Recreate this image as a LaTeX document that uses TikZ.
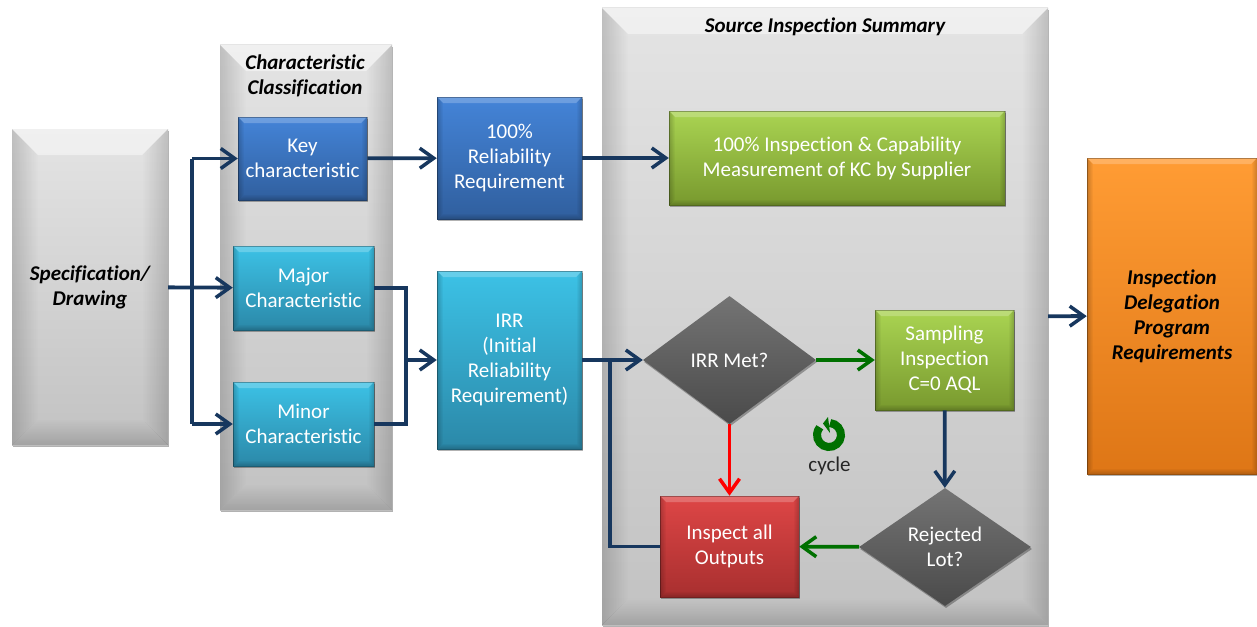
\documentclass[tikz,border=0pt]{standalone}
\usepackage{fontspec}
\setmainfont[Ligatures=NoCommon]{Carlito}
\usetikzlibrary{shapes.geometric,arrows.meta,shadows,fadings}
\definecolor{panelTop}{HTML}{E4E4E4}
\definecolor{panelBot}{HTML}{C2C2C2}
\definecolor{blueTop}{HTML}{4484D8}
\definecolor{blueBot}{HTML}{305F9E}
\definecolor{cyanTop}{HTML}{3CC2E6}
\definecolor{cyanBot}{HTML}{2B88A8}
\definecolor{grnTop}{HTML}{AAD452}
\definecolor{grnBot}{HTML}{78992E}
\definecolor{redTop}{HTML}{DE4646}
\definecolor{redBot}{HTML}{A82F2F}
\definecolor{orgTop}{HTML}{FF9C34}
\definecolor{orgBot}{HTML}{DE7616}
\definecolor{dmdTop}{HTML}{747474}
\definecolor{dmdMid}{HTML}{5A5A5A}
\definecolor{dmdBot}{HTML}{4A4A4A}
\definecolor{navyLine}{HTML}{17375E}
\definecolor{dkGreen}{HTML}{007000}
\newcommand{\ppb}{path picture bounding box}
\tikzset{
  >={Straight Barb[length=14pt,width=20pt,line width=3.5pt]},
  % depth, top face opacity, side face opacity
  bevel/.style n args={3}{path picture={
    \fill[white,opacity=#2] (\ppb.north west) -- ([xshift=#1,yshift=-#1]\ppb.north west) -- ([xshift=-#1,yshift=-#1]\ppb.north east) -- (\ppb.north east) -- cycle;
    \fill[black,opacity=#3,path fading=east] (\ppb.north west) -- ([xshift=#1,yshift=-#1]\ppb.north west) -- ([xshift=#1,yshift=#1]\ppb.south west) -- (\ppb.south west) -- cycle;
    \fill[black,opacity=#3,path fading=west] (\ppb.north east) -- ([xshift=-#1,yshift=-#1]\ppb.north east) -- ([xshift=-#1,yshift=#1]\ppb.south east) -- (\ppb.south east) -- cycle;
    \fill[black,opacity=#3,path fading=north] (\ppb.south west) -- ([xshift=#1,yshift=#1]\ppb.south west) -- ([xshift=-#1,yshift=#1]\ppb.south east) -- (\ppb.south east) -- cycle;
  }},
  softshadow/.style={drop shadow={shadow xshift=1pt,shadow yshift=-2pt,opacity=.3,fill=black}},
  panel/.style={rectangle, inner sep=0pt, top color=panelTop, bottom color=panelBot, softshadow, bevel={26pt}{.45}{.16}},
  box/.style={rectangle, inner sep=0pt, align=center, text=white, font=\fontsize{21}{25}\selectfont, softshadow, bevel={6pt}{.22}{.2}, draw=black, draw opacity=.3, line width=.5pt},
  keybox/.style={box, top color=blueTop, bottom color=blueBot},
  majbox/.style={box, top color=cyanTop, bottom color=cyanBot},
  grnbox/.style={box, top color=grnTop, bottom color=grnBot},
  decide/.style={diamond, inner sep=0pt, align=center, text=white, font=\fontsize{21}{25}\selectfont, top color=dmdTop, middle color=dmdMid, bottom color=dmdBot, softshadow},
  heading/.style={align=center, font=\fontsize{21}{25}\selectfont\bfseries\itshape},
  flow/.style={line width=3.8pt, color=navyLine},
}

\begin{document}
\begin{tikzpicture}[x=1pt,y=-1pt]
  \useasboundingbox (0,0) rectangle (1257,626);

  % panels
  \node[panel, minimum width=156pt, minimum height=316pt, heading] (spec) at (90,287) {Specification/\\Drawing};
  \node[panel, minimum width=172pt, minimum height=465pt] (class) at (306,277.5) {};
  \node[panel, minimum width=446pt, minimum height=617pt] (summary) at (825,316.5) {};
  \node[heading] (classT) at (305,76) {Characteristic\\Classification};
  \node[heading] (summaryT) at (825,27) {Source Inspection Summary};

  % boxes
  \node[keybox, minimum width=129pt, minimum height=83pt] (key) at (302.5,158.5) {Key\\characteristic};
  \node[majbox, minimum width=141pt, minimum height=84pt] (major) at (303.5,288) {Major\\Characteristic};
  \node[majbox, minimum width=141pt, minimum height=84pt] (minor) at (303.5,424) {Minor\\Characteristic};
  \node[keybox, minimum width=145pt, minimum height=122pt] (rel) at (509.5,158) {100\%\\Reliability\\Requirement};
  \node[majbox, minimum width=145pt, minimum height=178pt] (irr) at (509.5,360) {IRR\\(Initial\\Reliability\\Requirement)};
  \node[grnbox, minimum width=336pt, minimum height=94pt] (insp) at (837,158) {100\% Inspection \& Capability\\Measurement of KC by Supplier};
  \node[grnbox, minimum width=139pt, minimum height=100pt] (samp) at (944.5,360) {Sampling\\Inspection\\C=0 AQL};
  \node[box, top color=redTop, bottom color=redBot, minimum width=139pt, minimum height=101pt] (all) at (729.5,546.5) {Inspect all\\Outputs};
  \node[box, top color=orgTop, bottom color=orgBot, minimum width=170pt, minimum height=316pt, text=black, heading] (prog) at (1172,316) {Inspection\\Delegation\\Program\\Requirements};

  % decisions
  \node[decide, minimum width=173pt, minimum height=128pt] (met) at (729.5,360) {IRR Met?};
  \node[decide, minimum width=172pt, minimum height=118pt] (lot) at (945,547) {Rejected\\Lot?};

  % cycle mark
  \node[font=\fontsize{21}{25}\selectfont, text=black!85] (cyc) at (829.5,466) {cycle};
  \coordinate (ring) at (829,435);
  \draw[dkGreen, line width=8pt] (ring) ++(-85:12) arc (-85:220:12);
  \fill[dkGreen] (ring) ++(-1,-18) -- ++(-5,6.5) -- ++(7,9.5) -- cycle;

  % junctions
  \coordinate (bus) at (192,288);
  \coordinate (merge) at (406,360);
  \coordinate (back) at (610,360);

  \path[->, flow] (spec) edge (major);
  \draw[flow] (bus) -- (bus |- key.west);
  \draw[flow] (bus) -- (bus |- minor.west);
  \path[->, flow] (bus |- key.west) edge (key);
  \path[->, flow] (bus |- minor.west) edge (minor);

  \path[->, flow] (key) edge (rel);
  \path[->, flow] (rel) edge (insp);

  \draw[flow] (major) -| (merge) |- (minor);
  \path[->, flow] (merge) edge (irr);

  \path[->, flow] (irr) edge (met);
  \path[->, flow, dkGreen] (met) edge (samp);
  \path[->, flow, red] (met) edge (all);
  \path[->, flow] (samp) edge (lot);
  \path[->, flow, dkGreen] (lot) edge (all);
  \draw[flow] (all) -| (back);
  \path[->, flow] (summary) edge (prog);
\end{tikzpicture}
\end{document}
